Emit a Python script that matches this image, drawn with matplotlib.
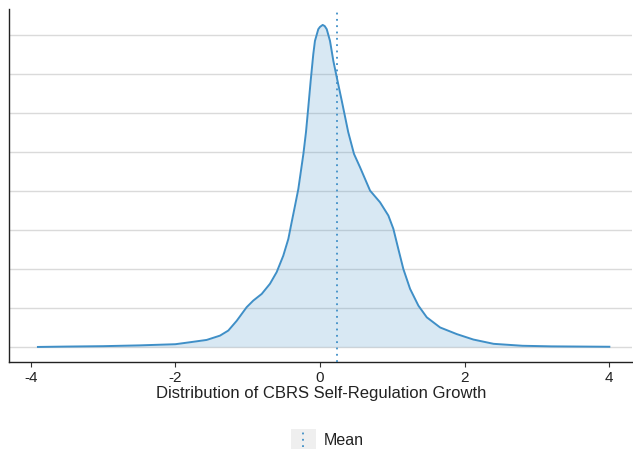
import matplotlib
matplotlib.use("Agg")
import matplotlib.pyplot as plt
from matplotlib.legend_handler import HandlerBase
from matplotlib.patches import Rectangle
from matplotlib.lines import Line2D

plt.rcParams['font.family'] = ['Liberation Sans', 'DejaVu Sans']

# Density curve
x_vals = [-3.9, -3.5, -3.0, -2.5, -2.0, -1.80, -1.567, -1.383, -1.268, -1.152, -1.014, -0.922,
          -0.806, -0.692, -0.599, -0.508, -0.438, -0.392, -0.346, -0.30, -0.23, -0.194, -0.162,
          -0.129, -0.093, -0.07, -0.024, 0.0, 0.037, 0.065, 0.093, 0.138, 0.184, 0.231, 0.30,
          0.39, 0.47, 0.553, 0.692, 0.83, 0.945, 1.014, 1.083, 1.152, 1.245, 1.36, 1.476, 1.66,
          1.89, 2.12, 2.40, 2.8, 3.2, 3.6, 4.0]
density = [0.000, 0.001, 0.002, 0.004, 0.007, 0.012, 0.018, 0.029, 0.042, 0.067, 0.102, 0.119,
           0.136, 0.162, 0.192, 0.234, 0.277, 0.320, 0.362, 0.405, 0.495, 0.551, 0.615,
           0.683, 0.751, 0.785, 0.815, 0.821, 0.826, 0.823, 0.815, 0.785, 0.734, 0.692, 0.632,
           0.551, 0.495, 0.461, 0.401, 0.371, 0.337, 0.303, 0.251, 0.200, 0.149, 0.106, 0.076, 0.050,
           0.033, 0.019, 0.008, 0.003, 0.0015, 0.001, 0.0005]
mean_value = 0.23
x_ticks = [-4, -2, 0, 2, 4]
grid_levels = [0.0, 0.1, 0.2, 0.3, 0.4, 0.5, 0.6, 0.7, 0.8]
x_label = "Distribution of CBRS Self-Regulation Growth"
legend_label = "Mean"

line_color = "#3f8fc7"

fig = plt.figure(figsize=(6.33, 4.52), dpi=100)
ax = fig.add_axes([0.0142, 0.197, 0.985, 0.781])

for g in grid_levels:
    ax.axhline(g, color="#dadada", lw=1.0, zorder=0)

ax.fill_between(x_vals, density, 0, color=line_color, alpha=0.2, lw=0, zorder=1)
ax.plot(x_vals, density, color=line_color, lw=1.4, zorder=2, solid_joinstyle='round')
ax.axvline(mean_value, color=line_color, ls=(0, (1, 2.5)), lw=1.3, zorder=3)

ax.set_xlim(-4.3, 4.32)
ax.set_ylim(-0.0385, 0.867)
ax.set_xticks(x_ticks)
ax.set_xticklabels([str(t) for t in x_ticks])
ax.set_yticks([])
ax.tick_params(axis='x', length=3.5, width=0.8, color="#333333", labelsize=11,
               labelcolor="#222222", pad=2)
for s in ['top', 'right']:
    ax.spines[s].set_visible(False)
for s in ['left', 'bottom']:
    ax.spines[s].set_color("#222222")
    ax.spines[s].set_linewidth(1.0)
ax.set_xlabel(x_label, fontsize=12, color="#222222", labelpad=1)


class KeyHandler(HandlerBase):
    def create_artists(self, legend, orig_handle, xdescent, ydescent, width, height, fontsize, trans):
        bg = Rectangle((-xdescent, -ydescent), width, height, facecolor="#efefef",
                       edgecolor="none", transform=trans)
        ln = Line2D([width / 2 - xdescent] * 2, [-ydescent + 1, height - ydescent - 1],
                    color=line_color, ls=(0, (1, 2.5)), lw=1.3, transform=trans)
        return [bg, ln]


handle = Line2D([], [], color=line_color, ls=':')
fig.legend([handle], [legend_label], handler_map={Line2D: KeyHandler()},
           loc='center', bbox_to_anchor=(0.517, 0.027), frameon=False,
           fontsize=11.5, handlelength=1.55, handleheight=1.55, handletextpad=0.5,
           labelcolor="#222222")

fig.savefig("out.png", dpi=100)
